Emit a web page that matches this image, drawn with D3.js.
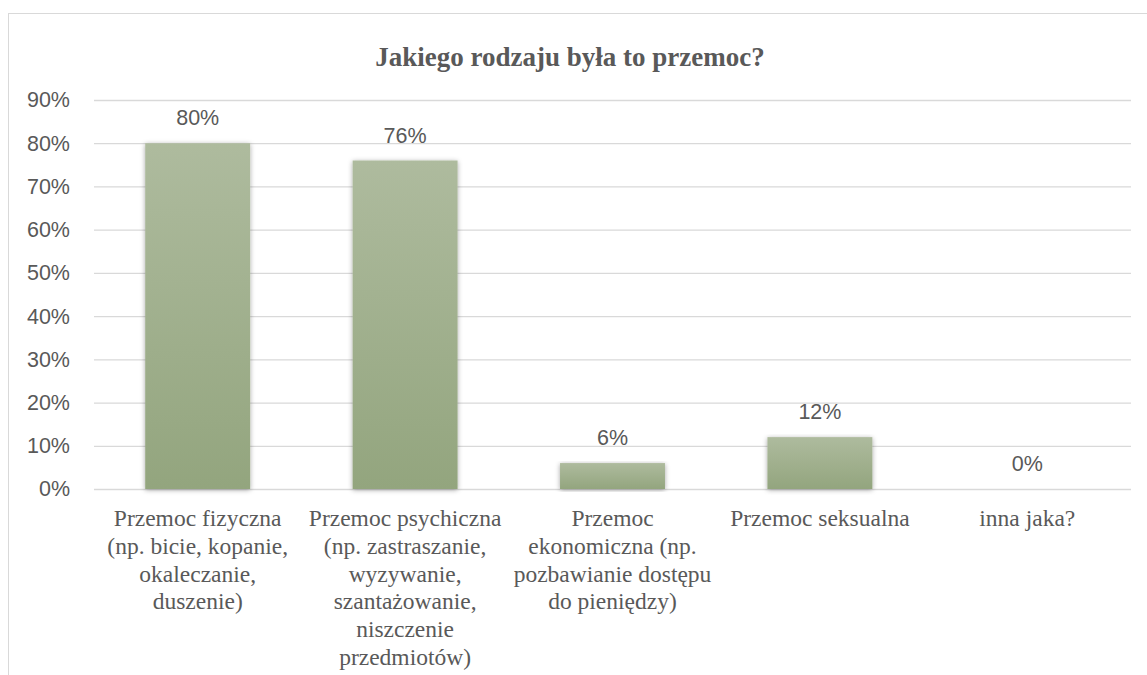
<!DOCTYPE html>
<html>
<head>
<meta charset="utf-8">
<script src="https://cdn.jsdelivr.net/npm/d3@7"></script>
<style>
  body { margin: 0; background: #fff; }
  svg { display: block; }
</style>
</head>
<body>
<svg id="graph" width="1147" height="675"></svg>
<script>
// données
const categories = [
  ["Przemoc fizyczna", "(np. bicie, kopanie,", "okaleczanie,", "duszenie)"],
  ["Przemoc psychiczna", "(np. zastraszanie,", "wyzywanie,", "szantażowanie,", "niszczenie", "przedmiotów)"],
  ["Przemoc", "ekonomiczna (np.", "pozbawianie dostępu", "do pieniędzy)"],
  ["Przemoc seksualna"],
  ["inna jaka?"]
];
const valeurs = [0.80, 0.76, 0.06, 0.12, 0.00];
const ticks = [0, 0.1, 0.2, 0.3, 0.4, 0.5, 0.6, 0.7, 0.8, 0.9];
const titre = "Jakiego rodzaju była to przemoc?";

const svg = d3.select("#graph");
const gris = "#595959";
const sans = "Liberation Sans, Arial, sans-serif";
const serif = "Liberation Serif, Times New Roman, serif";

// cadre du graphique
svg.append("rect")
  .attr("x", 8.5).attr("y", 13.5)
  .attr("width", 1150).attr("height", 700)
  .attr("fill", "#fff")
  .attr("stroke", "#d9d9d9");

const defs = svg.append("defs");
const grad = defs.append("linearGradient")
  .attr("id", "degrade")
  .attr("x1", 0).attr("y1", 0).attr("x2", 0).attr("y2", 1);
grad.append("stop").attr("offset", "0%").attr("stop-color", "#aebb9e");
grad.append("stop").attr("offset", "100%").attr("stop-color", "#93a57e");

const ombre = defs.append("filter").attr("id", "ombre")
  .attr("x", "-20%").attr("y", "-5%").attr("width", "140%").attr("height", "115%");
ombre.append("feDropShadow")
  .attr("dx", 0).attr("dy", 1).attr("stdDeviation", 2.5)
  .attr("flood-color", "#000").attr("flood-opacity", 0.35);

const gauche = 94, droite = 1131;
const y = d3.scaleLinear().domain([0, 0.9]).range([489, 100]);
const x = d3.scaleBand()
  .domain(d3.range(valeurs.length))
  .range([gauche, droite])
  .paddingInner(0.494).paddingOuter(0.247);

// lignes de la grille + étiquettes de l'axe Y
const axeY = d3.axisLeft(y)
  .tickValues(ticks)
  .tickFormat(d3.format(".0%"))
  .tickSize(-(droite - gauche))
  .tickPadding(24);
const gAxe = svg.append("g")
  .attr("transform", `translate(${gauche},0)`)
  .call(axeY);
gAxe.select(".domain").remove();
gAxe.selectAll(".tick line")
  .attr("stroke", "#d9d9d9").attr("stroke-width", 1.3);
gAxe.selectAll(".tick text")
  .attr("fill", gris)
  .attr("font-family", sans)
  .attr("font-size", 21.5);

// barres
svg.selectAll(".barre")
  .data(valeurs)
  .join("rect")
  .attr("class", "barre")
  .attr("x", (d, i) => x(i))
  .attr("width", x.bandwidth())
  .attr("y", d => y(d))
  .attr("height", d => y(0) - y(d))
  .attr("fill", "url(#degrade)")
  .attr("filter", "url(#ombre)");

// étiquettes des valeurs
svg.selectAll(".valeur")
  .data(valeurs)
  .join("text")
  .attr("class", "valeur")
  .attr("x", (d, i) => x(i) + x.bandwidth() / 2)
  .attr("y", d => y(d) - 18)
  .attr("text-anchor", "middle")
  .attr("fill", gris)
  .attr("font-family", sans)
  .attr("font-size", 21.5)
  .text(d3.format(".0%"));

// étiquettes des catégories (plusieurs lignes)
const gCat = svg.selectAll(".categorie")
  .data(categories)
  .join("text")
  .attr("class", "categorie")
  .attr("text-anchor", "middle")
  .attr("fill", gris)
  .attr("font-family", serif)
  .attr("font-size", 23.5);
gCat.selectAll("tspan")
  .data((d, i) => d.map(l => ({ l, i })))
  .join("tspan")
  .attr("x", d => x(d.i) + x.bandwidth() / 2)
  .attr("y", (d, j) => 526 + j * 27.8)
  .text(d => d.l);

// titre
svg.append("text")
  .attr("x", 570).attr("y", 66)
  .attr("text-anchor", "middle")
  .attr("fill", gris)
  .attr("font-family", serif)
  .attr("font-weight", "bold")
  .attr("font-size", 27)
  .text(titre);
</script>
</body>
</html>
